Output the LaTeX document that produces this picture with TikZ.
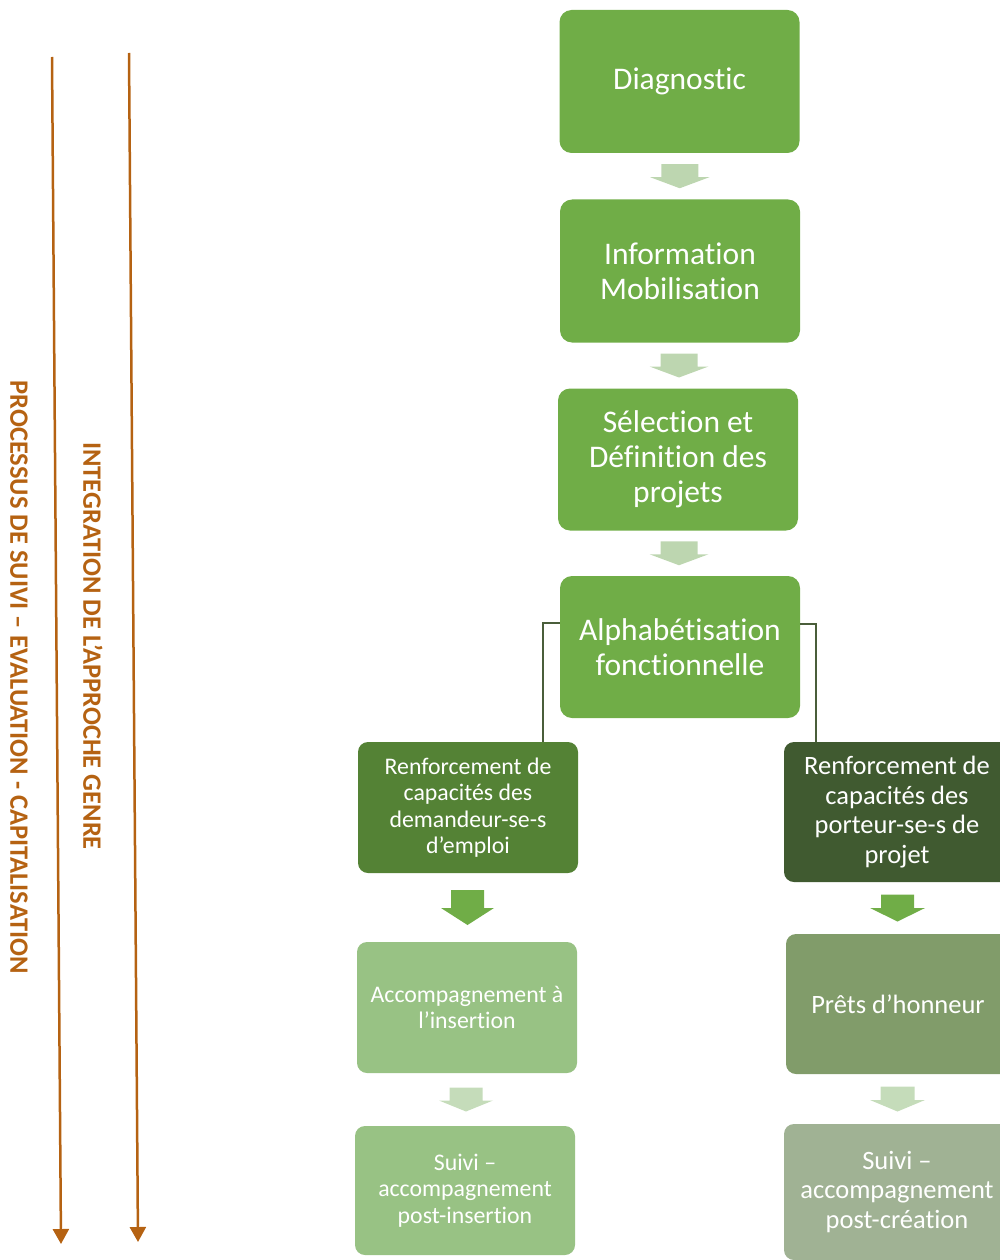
\documentclass[tikz,border=0pt]{standalone}
\usepackage{fontspec}
\setmainfont{Carlito}[Ligatures={NoCommon}]
\usetikzlibrary{calc,arrows.meta}
\definecolor{mgreen}{RGB}{112,173,71}
\definecolor{dgreenL}{RGB}{84,130,53}
\definecolor{dgreenR}{RGB}{64,90,48}
\definecolor{lgreen}{RGB}{152,194,132}
\definecolor{pgreen}{RGB}{129,156,106}
\definecolor{sgreen}{RGB}{160,178,148}
\definecolor{larrow}{RGB}{189,214,176}
\definecolor{larrow2}{RGB}{197,220,186}
\definecolor{orng}{RGB}{181,98,18}
\definecolor{conn}{RGB}{74,94,58}
\newcommand{\bigtxt}{\fontsize{31.5}{35}\selectfont}
\newcommand{\smtxt}{\fontsize{23.8}{26.3}\selectfont}
\newcommand{\rtxt}{\fontsize{26.5}{29.4}\selectfont}
\newcommand{\blockarr}[7]{%
  \path ($(#1.south)!0.5!(#2.north)$) coordinate (m);
  \fill[#3] ([shift={(-#5,-#4/2)}]m) -- ([shift={(#5,-#4/2)}]m) -- ([shift={(#5,#7)}]m)
    -- ([shift={(#6,#7)}]m) -- ([shift={(0,#4/2)}]m) -- ([shift={(-#6,#7)}]m)
    -- ([shift={(-#5,#7)}]m) -- cycle;}
\tikzset{
  box/.style={rectangle, rounded corners=12pt, inner sep=0pt, align=center, text=white},
  topbox/.style={box, fill=mgreen, minimum width=240pt, minimum height=143pt, font=\bigtxt},
  lbox/.style={box, minimum width=220pt, minimum height=130pt, rounded corners=10pt, font=\smtxt},
  rbox/.style={box, minimum width=226pt, minimum height=140pt, rounded corners=10pt, font=\rtxt},
  vlabel/.style={rotate=-90, text=orng, font=\fontsize{26.5}{30}\selectfont\bfseries},
  bigline/.style={draw=orng, line width=2.5pt, -{Triangle[width=16pt,length=15pt]}},
  connector/.style={draw=conn, line width=1.3pt}
}
\begin{document}
\begin{tikzpicture}[x=1pt,y=-1pt]
\useasboundingbox (0,0) rectangle (1000,1260);
\clip (0,0) rectangle (1000,1260);
% main column
\node[topbox] (diag) at (679.5,81.5) {Diagnostic};
\node[topbox] (info) at (680,271) {Information\\Mobilisation};
\node[topbox, minimum height=142pt] (sel) at (678,459.5) {Sélection et\\Définition des\\projets};
\node[topbox, minimum height=142pt] (alpha) at (680,647) {Alphabétisation\\fonctionnelle};
% left column
\node[lbox, fill=dgreenL, minimum height=131pt] (renfL) at (468,807.5) {Renforcement de\\capacités des\\demandeur-se-s\\d’emploi};
\node[lbox, fill=lgreen, minimum height=131pt] (accL) at (467,1007.5) {Accompagnement à\\l’insertion};
\node[lbox, fill=lgreen, minimum height=129pt] (suiviL) at (465,1190.5) {Suivi –\\accompagnement\\post-insertion};
% right column
\node[rbox, fill=dgreenR] (renfR) at (897,812) {Renforcement de\\capacités des\\porteur-se-s de\\projet};
\node[rbox, fill=pgreen, minimum width=224pt] (prets) at (898,1004) {Prêts d’honneur};
\node[rbox, fill=sgreen, minimum height=136pt] (suiviR) at (897,1192) {Suivi –\\accompagnement\\post-création};
% block arrows
\blockarr{diag}{info}{larrow}{24}{18.5}{29.5}{1}
\blockarr{info}{sel}{larrow}{24}{18.5}{29.5}{1}
\blockarr{sel}{alpha}{larrow}{24}{18.5}{29.5}{1}
\blockarr{renfL}{accL}{mgreen}{35}{16.5}{26.5}{0.5}
\blockarr{renfR}{prets}{mgreen}{27}{16.5}{27.5}{0}
\blockarr{accL}{suiviL}{larrow2}{24}{16.5}{27}{1}
\blockarr{prets}{suiviR}{larrow2}{25}{17}{27.5}{1}
% elbow connectors
\draw[connector] ([yshift=24pt]alpha.west) -| ([xshift=75pt]renfL.north);
\draw[connector] ([yshift=23pt]alpha.east) -| ([xshift=-81pt]renfR.north);
% side arrows and labels
\coordinate (a1s) at (52,57);
\coordinate (a1e) at (61,1244);
\coordinate (a2s) at (129,53);
\coordinate (a2e) at (138,1242);
\draw[bigline] (a1s) -- (a1e);
\draw[bigline] (a2s) -- (a2e);
\node[vlabel] (lab1) at (19,677) {PROCESSUS DE SUIVI – EVALUATION - CAPITALISATION};
\node[vlabel] (lab2) at (93,646) {INTEGRATION DE L’APPROCHE GENRE};
\end{tikzpicture}
\end{document}
